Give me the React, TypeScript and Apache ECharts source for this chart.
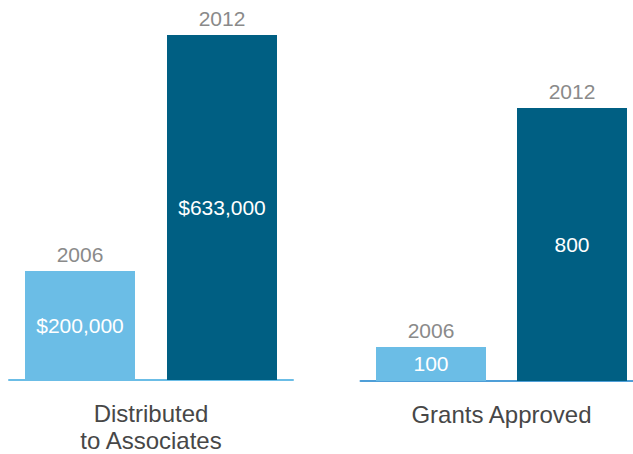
import React, { useEffect, useRef } from "react";
import * as echarts from "echarts";

const years = ["2006", "2012"];
const distributedValues = [200000, 633000];
const grantsValues = [100, 800];
const groupNames = ["Distributed\nto Associates", "Grants Approved"];
const barColors = ["#6bbde6", "#005f83"];

const FONT = "'Helvetica Neue', 'Liberation Sans', Arial, sans-serif";

function fmtMoney(v: number) {
  return "$" + v.toLocaleString("en-US");
}

export default function App() {
  const ref = useRef<HTMLDivElement>(null);
  useEffect(() => {
    if (!ref.current) return;
    const chart = echarts.init(ref.current, null, { renderer: "svg" });
    const mkData = (vals: number[]) =>
      vals.map((v, i) => ({ value: v, itemStyle: { color: barColors[i] } }));
    const axisLineColors = ["#6bbde6", "#4f9fd8"];
    const grids = [
      { left: 9, top: 35, width: 284, bottom: 74, outerBoundsMode: "none", containLabel: false },
      { left: 360.5, top: 108, width: 282, bottom: 73, outerBoundsMode: "none", containLabel: false },
    ];
    const xAxes = grids.map((g, i) => ({
      type: "category",
      gridIndex: i,
      data: years,
      axisLine: { show: true, lineStyle: { color: axisLineColors[i], width: 2 } },
      axisTick: { show: false },
      axisLabel: { show: false },
      name: groupNames[i],
      nameLocation: "middle",
      nameGap: 20,
      nameTextStyle: {
        color: "#474747",
        fontSize: 24,
        fontFamily: FONT,
        lineHeight: 27,
        verticalAlign: "top",
      },
    }));
    const yAxes = grids.map((g, i) => ({
      type: "value",
      gridIndex: i,
      min: 0,
      max: "dataMax",
      show: false,
      splitLine: { show: false },
    }));
    const valueSeries = [distributedValues, grantsValues].map((vals, i) => ({
      type: "bar",
      xAxisIndex: i,
      yAxisIndex: i,
      barWidth: 110,
      barGap: "-100%",
      data: mkData(vals),
      label: {
        show: true,
        position: "inside",
        color: "#ffffff",
        fontSize: 21,
        fontFamily: FONT,
        formatter: (p: any) => (i === 0 ? fmtMoney(p.value) : String(p.value)),
      },
    }));
    const yearSeries = [distributedValues, grantsValues].map((vals, i) => ({
      type: "bar",
      xAxisIndex: i,
      yAxisIndex: i,
      barWidth: 110,
      barGap: "-100%",
      data: vals,
      itemStyle: { color: "rgba(0,0,0,0)" },
      silent: true,
      label: {
        show: true,
        position: "top",
        distance: 6,
        color: "#8a8a8a",
        fontSize: 21,
        fontFamily: FONT,
        formatter: (p: any) => years[p.dataIndex],
      },
    }));
    chart.setOption({
      animation: false,
      grid: grids,
      xAxis: xAxes,
      yAxis: yAxes,
      series: [...valueSeries, ...yearSeries],
    });
    return () => chart.dispose();
  }, []);
  return <div ref={ref} style={{ width: 633, height: 454, position: "absolute", left: 0, top: 0 }} />;
}
